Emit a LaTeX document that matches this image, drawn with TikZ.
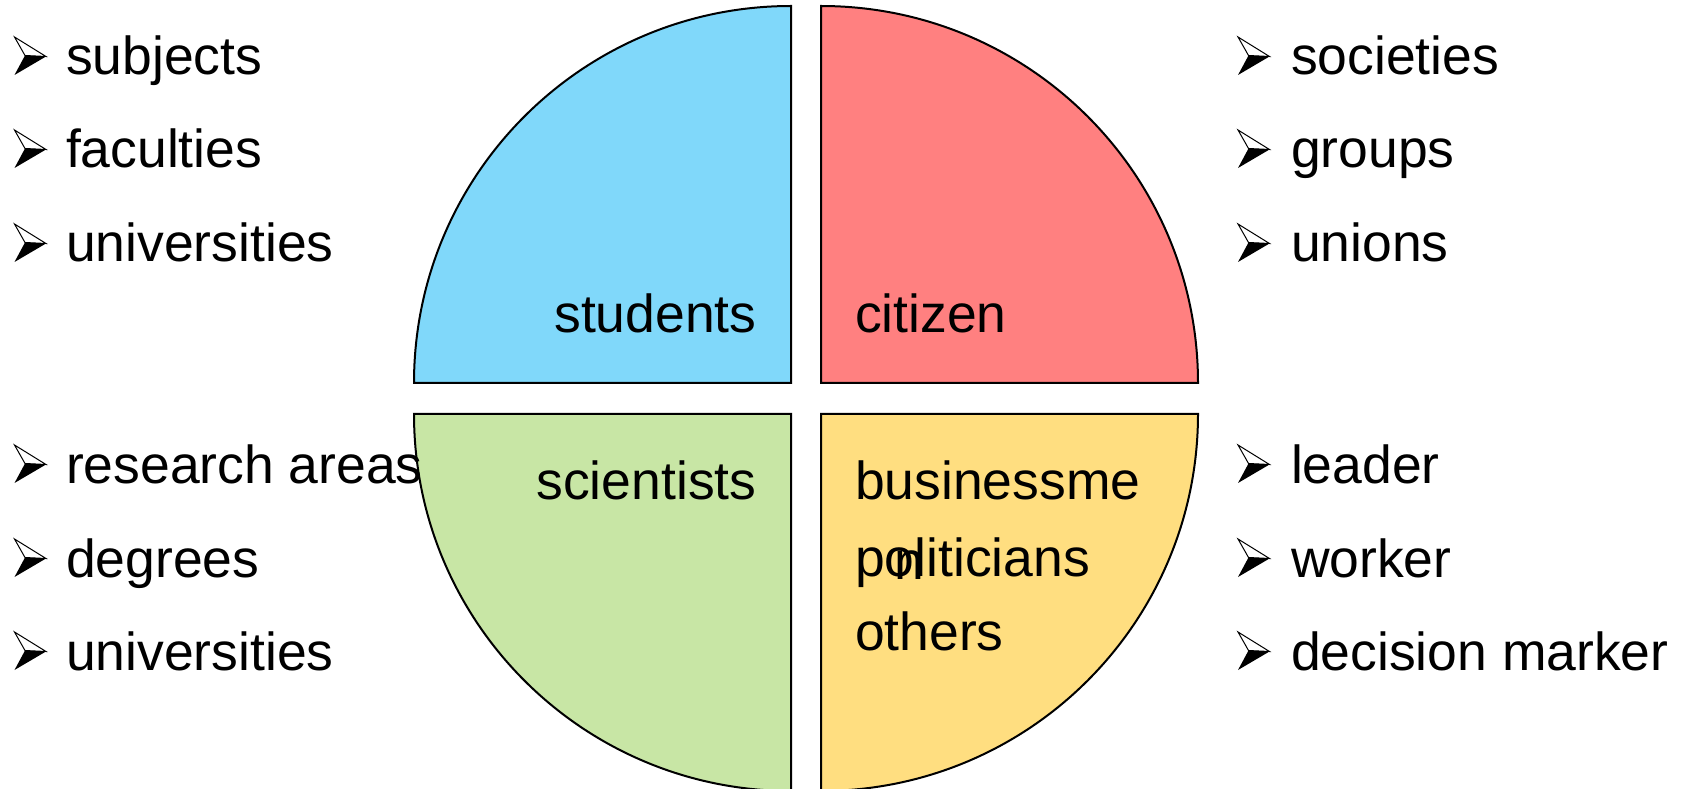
\documentclass[tikz,border=0pt]{standalone}
\usepackage{fontspec}
\setmainfont{Liberation Sans}
\definecolor{qblue}{RGB}{128,216,250}
\definecolor{qred}{RGB}{255,128,128}
\definecolor{qgreen}{RGB}{200,230,165}
\definecolor{qyellow}{RGB}{255,222,128}
\tikzset{
  quad/.style={draw=black, line width=2pt, line join=miter},
  txt/.style={inner sep=0pt, outer sep=0pt, font=\fontsize{53.5}{60}\selectfont},
  bularrow/.pic={
    \draw[line width=1pt, fill=white, line join=miter] (0,38) -- (31.5,18.5) -- (10.5,19.5) -- cycle;
    \fill[black] (10.5,19.5) -- (31.5,18.5) -- (0,0) -- cycle;
  }
}
\begin{document}
\begin{tikzpicture}[x=1pt,y=1pt]
\useasboundingbox (0,0) rectangle (1681,788);
% quadrants
\draw[quad, fill=qblue]   (791,405) -- (414,405) arc[start angle=180, end angle=90, radius=377] -- cycle;
\draw[quad, fill=qred]    (821,405) -- (821,782) arc[start angle=90, end angle=0, radius=377] -- cycle;
\draw[quad, fill=qgreen]  (791,374) -- (414,374) arc[start angle=180, end angle=270, radius=377] -- cycle;
\draw[quad, fill=qyellow] (821,374) -- (1198,374) arc[start angle=0, end angle=-90, radius=377] -- cycle;
% quadrant labels
\node[txt, anchor=base east] (students) at (756.5,455) {students};
\node[txt, anchor=base west] (citizen) at (855,455) {citizen};
\node[txt, anchor=base east] (scientists) at (756.5,288.5) {scientists};
\node[txt, anchor=base west] (business) at (855,288.5) {businessme};
\node[txt, anchor=base west] (politicians) at (855,212) {politicians};
\node[txt, anchor=base west] (nchar) at (894,209) {n};
\node[txt, anchor=base west] (others) at (855,138) {others};
% left lists
\pic at (14.5,713) {bularrow};
\node[txt, anchor=base west] (l1) at (66,713) {subjects};
\pic at (14.5,620) {bularrow};
\node[txt, anchor=base west] (l2) at (66,620) {faculties};
\pic at (14.5,526) {bularrow};
\node[txt, anchor=base west] (l3) at (66,526) {universities};
\pic at (14.5,305) {bularrow};
\node[txt, anchor=base west] (l4) at (66,305) {research areas};
\pic at (14.5,211) {bularrow};
\node[txt, anchor=base west] (l5) at (66,211) {degrees};
\pic at (14.5,118) {bularrow};
\node[txt, anchor=base west] (l6) at (66,118) {universities};
% right lists
\pic at (1238,713) {bularrow};
\node[txt, anchor=base west] (r1) at (1291,713) {societies};
\pic at (1238,620) {bularrow};
\node[txt, anchor=base west] (r2) at (1291,620) {groups};
\pic at (1238,526) {bularrow};
\node[txt, anchor=base west] (r3) at (1291,526) {unions};
\pic at (1238,305) {bularrow};
\node[txt, anchor=base west] (r4) at (1291,305) {leader};
\pic at (1238,211) {bularrow};
\node[txt, anchor=base west] (r5) at (1291,211) {worker};
\pic at (1238,118) {bularrow};
\node[txt, anchor=base west] (r6) at (1291,118) {decision marker};
\end{tikzpicture}
\end{document}
